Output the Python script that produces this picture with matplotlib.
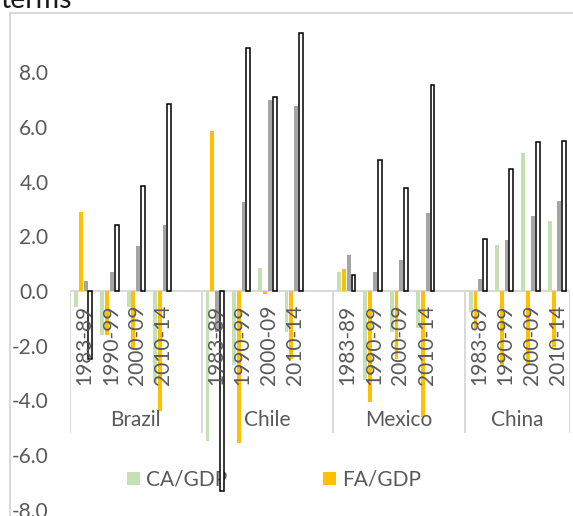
import matplotlib.pyplot as plt
from matplotlib.lines import Line2D
from matplotlib.patches import Patch
import numpy as np

plt.rcParams["font.family"] = ["Lato", "DejaVu Sans"]

# ------------------------------------------------------------
# Data (% of GDP, period averages)
# ------------------------------------------------------------
countries = ["Brazil", "Chile", "Mexico", "China"]
periods = ["1983-89", "1990-99", "2000-09", "2010-14"]

ca_gdp = [-0.6, -1.6, -0.6, -3.35,
          -5.5, -2.7, 0.85, -1.5,
          0.7, -3.25, -1.5, -1.35,
          -0.75, 1.7, 5.05, 2.55]
fa_gdp = [2.9, -1.6, -2.1, -4.4,
          5.85, -5.55, -0.1, -2.5,
          0.8, -4.05, -2.5, -4.6,
          -1.35, -2.75, -2.7, -2.05]
series_c = [0.35, 0.7, 1.65, 2.4,
            -1.5, 3.25, 7.0, 6.75,
            1.3, 0.7, 1.15, 2.85,
            0.45, 1.85, 2.75, 3.3]
series_d = [-2.5, 2.4, 3.85, 6.85,
            -7.3, 8.9, 7.1, 9.45,
            0.6, 4.8, 3.75, 7.55,
            1.9, 4.45, 5.45, 5.5]

GREEN = "#c5e0b4"
GOLD = "#ffc000"
GREY = "#a5a5a5"
TXT = "#595959"
BORDER = "#d9d9d9"
FS = 15

# one blank slot after each country except the last
slots = np.array([5 * i + j for i in range(len(countries))
                  for j in range(len(periods))], dtype=float)

W, H = 573, 516
fig = plt.figure(figsize=(W / 100, H / 100), dpi=100)
ax = fig.add_axes([70 / W, 0, 500 / W, 503 / H])

step = 0.183
width = 0.148
ax.bar(slots - 1.5 * step, ca_gdp, width, color=GREEN, zorder=2)
ax.bar(slots - 0.5 * step, fa_gdp, width, color=GOLD, zorder=2)
ax.bar(slots + 0.5 * step, series_c, width, color=GREY, zorder=2)
ax.bar(slots + 1.5 * step, series_d, width, facecolor="white",
       edgecolor="black", linewidth=1.1, zorder=3)

ax.set_xlim(-0.5, 18.5)
ax.set_ylim(-8.227, 10.165)
ax.set_yticks(np.arange(-8, 9, 2))
ax.set_yticklabels([f"{v:.1f}" for v in np.arange(-8, 9, 2)])
ax.tick_params(axis="y", length=0, pad=15.5, labelsize=FS, labelcolor=TXT)
ax.set_xticks([])
for side in ax.spines.values():
    side.set_visible(False)

# category axis: baseline, group separators, two label levels
ax.axhline(0, color=BORDER, lw=1.4, zorder=1)
ax.vlines([-0.5, 4.5, 9.5, 14.5, 18.5], -5.19, 0, color=BORDER, lw=1.4,
          zorder=1)
for x, lab in zip(slots, periods * len(countries)):
    ax.text(x + 0.05, -0.5, lab, rotation=90, ha="center", va="top",
            fontsize=FS, color=TXT, zorder=4)
for i, name in enumerate(countries):
    centre = 5 * i + 2 if i < len(countries) - 1 else 16.5
    ax.text(centre, -4.72, name, ha="center", va="center",
            fontsize=FS, color=TXT, zorder=4)

handles = [Patch(facecolor=GREEN, label="CA/GDP"),
           Patch(facecolor=GOLD, label="FA/GDP")]
leg = ax.legend(handles=handles, loc="center", ncol=2, frameon=False,
                bbox_to_anchor=(274 / W, 1 - 480 / H),
                bbox_transform=fig.transFigure, fontsize=FS,
                handlelength=0.6, handleheight=0.6, handletextpad=0.3,
                columnspacing=4.6, labelcolor=TXT)
leg.set_zorder(1.5)

# chart frame edges and the text line above it
fig.add_artist(Line2D([10 / W, 10 / W], [0, 1 - 13 / H],
                      color=BORDER, lw=1.4))
fig.add_artist(Line2D([10 / W, 1], [1 - 13 / H, 1 - 13 / H],
                      color=BORDER, lw=1.4))
fig.text(0, 1 - 8 / H, "terms", fontsize=20.5, color="#1a1a1a",
         va="baseline", ha="left")

fig.savefig("out.png", dpi=100)
